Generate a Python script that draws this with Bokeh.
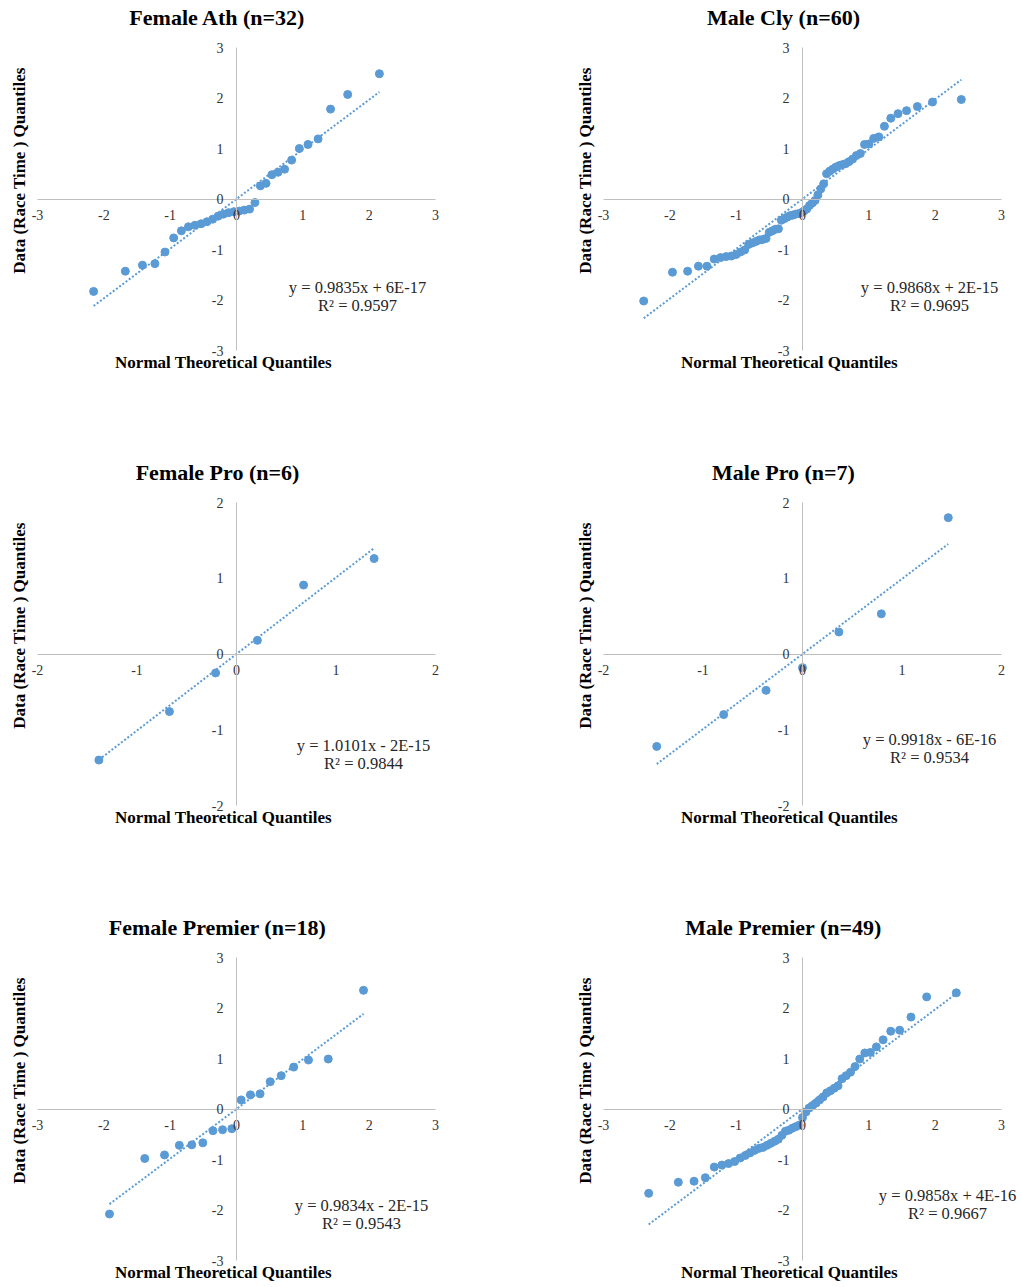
import math
from bokeh.plotting import figure
from bokeh.models import Range1d, FixedTicker, Label
from bokeh.layouts import column, row
from bokeh.embed import file_html
from bokeh.resources import INLINE

# ---------------- data ----------------
titles = ["Female Ath (n=32)", "Male Cly (n=60)", "Female Pro (n=6)",
          "Male Pro (n=7)", "Female Premier (n=18)", "Male Premier (n=49)"]

fa_x = [-2.154, -1.676, -1.418, -1.230, -1.078, -0.947, -0.831, -0.725, -0.626, -0.533,
        -0.445, -0.360, -0.278, -0.197, -0.118, -0.039, 0.039, 0.118, 0.197, 0.278,
        0.360, 0.445, 0.533, 0.626, 0.725, 0.831, 0.947, 1.078, 1.230, 1.418, 1.676, 2.154]
fa_y = [-1.83, -1.43, -1.31, -1.28, -1.05, -0.77, -0.63, -0.55, -0.52, -0.49,
        -0.45, -0.40, -0.34, -0.30, -0.27, -0.25, -0.24, -0.22, -0.20, -0.07,
        0.26, 0.31, 0.48, 0.53, 0.59, 0.77, 1.00, 1.08, 1.19, 1.78, 2.07, 2.48]

mc_x = [-2.394, -1.960, -1.732, -1.569, -1.440, -1.331, -1.235, -1.150, -1.073, -1.001,
        -0.935, -0.872, -0.812, -0.755, -0.701, -0.649, -0.598, -0.549, -0.501, -0.454,
        -0.408, -0.363, -0.319, -0.275, -0.232, -0.189, -0.147, -0.105, -0.063, -0.021,
        0.021, 0.063, 0.105, 0.147, 0.189, 0.232, 0.275, 0.319, 0.363, 0.408,
        0.454, 0.501, 0.549, 0.598, 0.649, 0.701, 0.755, 0.812, 0.872, 0.935,
        1.001, 1.073, 1.150, 1.235, 1.331, 1.440, 1.569, 1.732, 1.960, 2.394]
mc_y = [-2.02, -1.45, -1.43, -1.33, -1.33, -1.19, -1.16, -1.14, -1.13, -1.10,
        -1.05, -1.01, -0.90, -0.87, -0.84, -0.81, -0.80, -0.78, -0.66, -0.63,
        -0.60, -0.59, -0.42, -0.39, -0.36, -0.33, -0.32, -0.30, -0.29, -0.27,
        -0.24, -0.20, -0.13, -0.08, -0.03, 0.08, 0.20, 0.30, 0.50, 0.55,
        0.59, 0.63, 0.66, 0.68, 0.70, 0.74, 0.79, 0.86, 0.90, 1.08,
        1.09, 1.20, 1.23, 1.44, 1.60, 1.69, 1.75, 1.83, 1.92, 1.97]

fp_x = [-1.383, -0.674, -0.210, 0.210, 0.674, 1.383]
fp_y = [-1.40, -0.76, -0.25, 0.18, 0.91, 1.26]

mp_x = [-1.465, -0.792, -0.366, 0.0, 0.366, 0.792, 1.465]
mp_y = [-1.22, -0.80, -0.48, -0.18, 0.29, 0.53, 1.80]

fpr_x = [-1.915, -1.383, -1.085, -0.862, -0.674, -0.508, -0.355, -0.210, -0.070,
         0.070, 0.210, 0.355, 0.508, 0.674, 0.862, 1.085, 1.383, 1.915]
fpr_y = [-2.08, -0.98, -0.91, -0.72, -0.71, -0.67, -0.43, -0.41, -0.39,
         0.18, 0.28, 0.30, 0.54, 0.66, 0.83, 0.97, 0.99, 2.35]

mpr_x = [-2.319, -1.872, -1.635, -1.465, -1.330, -1.215, -1.114, -1.023, -0.940, -0.863,
         -0.792, -0.724, -0.658, -0.596, -0.536, -0.478, -0.421, -0.366, -0.311, -0.258,
         -0.206, -0.154, -0.102, -0.051, 0.0, 0.051, 0.102, 0.154, 0.206, 0.258,
         0.311, 0.366, 0.421, 0.478, 0.536, 0.596, 0.658, 0.724, 0.792, 0.863,
         0.940, 1.023, 1.114, 1.215, 1.330, 1.465, 1.635, 1.872, 2.319]
mpr_y = [-1.67, -1.45, -1.43, -1.36, -1.15, -1.11, -1.08, -1.04, -0.97, -0.92,
         -0.87, -0.82, -0.78, -0.76, -0.72, -0.68, -0.64, -0.60, -0.52, -0.44,
         -0.42, -0.38, -0.35, -0.32, -0.17, -0.06, 0.02, 0.07, 0.12, 0.18,
         0.24, 0.32, 0.36, 0.41, 0.46, 0.60, 0.66, 0.73, 0.84, 0.99,
         1.11, 1.12, 1.23, 1.37, 1.54, 1.56, 1.82, 2.22, 2.30]

slopes = [0.9835, 0.9868, 1.0101, 0.9918, 0.9834, 0.9858]
intercepts = [6e-17, 2e-15, -2e-15, -6e-16, -2e-15, 4e-16]
intercept_labels = ["+ 6E-17", "+ 2E-15", "- 2E-15", "- 6E-16", "- 2E-15", "+ 4E-16"]
r_squared = ["0.9597", "0.9695", "0.9844", "0.9534", "0.9543", "0.9667"]
axis_limits = [3, 3, 2, 2, 3, 3]
x_title = "Normal Theoretical Quantiles"
y_title = "Data (Race Time ) Quantiles"

series_x = [fa_x, mc_x, fp_x, mp_x, fpr_x, mpr_x]
series_y = [fa_y, mc_y, fp_y, mp_y, fpr_y, mpr_y]

# ---------------- layout / style ----------------
FONT = "Liberation Serif"
BLUE = "#5B9BD5"
FW, FH = 398, 303          # size of the -lim..lim plot area in px
COL_W = [566, 454]
ROW_H = [455, 455, 375]
LEFT, TOP = 37, 47         # offset of the plot area inside each figure
EQ_POS = [(320, 240), (326, 240), (326, 243), (326, 237), (324, 248), (344, 238)]
TITLE_POS = (180, -30)
YT_POS = (-18, 123)
XT_POS = (186, 315)


def px_to_data(px, py, lim):
    return -lim + 2 * lim * px / FW, lim - 2 * lim * py / FH


def add_text(p, lim, pos, text, size, bold=False, angle=0.0, color="#000000"):
    x, y = px_to_data(pos[0], pos[1], lim)
    p.add_layout(Label(x=x, y=y, text=text, text_font=FONT, text_font_size=size,
                       text_font_style="bold" if bold else "normal",
                       text_align="center", text_baseline="middle",
                       angle=angle, text_color=color))


def make_panel(i):
    c, r = i % 2, i // 2
    lim = axis_limits[i]
    w, h = COL_W[c], ROW_H[r]
    kx, ky = 2 * lim / FW, 2 * lim / FH
    x_range = Range1d(-lim - LEFT * kx, lim + (w - LEFT - FW) * kx)
    y_range = Range1d(-lim - (h - TOP - FH) * ky, lim + TOP * ky)
    p = figure(width=w, height=h, x_range=x_range, y_range=y_range, title=None,
               output_backend="svg", toolbar_location=None,
               min_border_left=0, min_border_right=0,
               min_border_top=0, min_border_bottom=0)
    p.outline_line_color = None
    p.grid.visible = False
    p.background_fill_color = "white"
    p.border_fill_color = "white"

    ticks = list(range(-lim, lim + 1))
    overrides = {t: str(t) for t in ticks}
    p.xaxis.fixed_location = 0
    p.yaxis.fixed_location = 0
    for ax in (p.xaxis, p.yaxis):
        ax.ticker = FixedTicker(ticks=ticks)
        ax.bounds = (-lim, lim)
        ax.major_label_overrides = overrides
        ax.axis_line_color = "#bfbfbf"
        ax.axis_line_width = 1
        ax.major_tick_line_color = None
        ax.minor_tick_line_color = None
        ax.major_tick_out = 0
        ax.major_tick_in = 0
        ax.minor_tick_out = 0
        ax.minor_tick_in = 0
        ax.major_label_text_font = FONT
        ax.major_label_text_font_size = "14px"
        ax.major_label_text_color = "#333333"
    p.xaxis.major_label_standoff = 11
    p.yaxis.major_label_standoff = 13

    xs, ys = series_x[i], series_y[i]
    m, b = slopes[i], intercepts[i]
    x0, x1 = min(xs), max(xs)
    p.line([x0, x1], [m * x0 + b, m * x1 + b], line_color=BLUE, line_width=2,
           line_dash="2 2")
    p.scatter(xs, ys, size=8, fill_color=BLUE, line_color=BLUE)

    add_text(p, lim, TITLE_POS, titles[i], "22px", bold=True)
    add_text(p, lim, YT_POS, y_title, "17px", bold=True, angle=math.pi / 2)
    add_text(p, lim, XT_POS, x_title, "17px", bold=True)
    ex, ey = EQ_POS[i]
    add_text(p, lim, (ex, ey), f"y = {slopes[i]:.4f}x {intercept_labels[i]}", "16.5px",
             color="#262626")
    add_text(p, lim, (ex, ey + 18), f"R\u00b2 = {r_squared[i]}", "16.5px", color="#262626")
    return p


panels = [make_panel(i) for i in range(6)]
layout = column(row(panels[0], panels[1]), row(panels[2], panels[3]), row(panels[4], panels[5]))

open("out.html", "w").write(file_html(layout, INLINE))
